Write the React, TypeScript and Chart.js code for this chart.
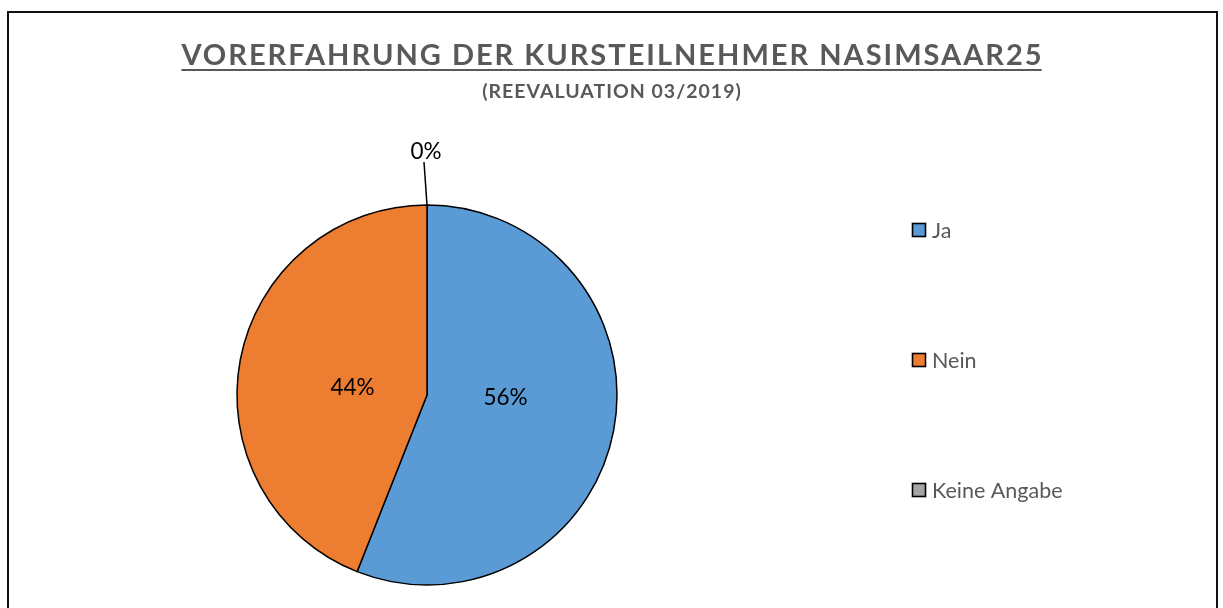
import React, { useEffect, useRef } from "react";
import { Chart, registerables } from "chart.js";

Chart.register(...registerables);

const categories = ["Ja", "Nein", "Keine Angabe"];
const values = [56, 44, 0];
const colors = ["#5B9BD5", "#ED7D31", "#A5A5A5"];
const titleText = "VORERFAHRUNG DER KURSTEILNEHMER NASIMSAAR25";
const subtitleText = "(REEVALUATION 03/2019)";

const FONT = "Lato, Calibri, 'Open Sans', sans-serif";
const GREY = "#595959";
const TITLE_SIZE = 29;
const TITLE_SPACING = 2;
const SUB_SIZE = 19.5;
const SUB_SPACING = 1;
const LABEL_SIZE = 22.5;
const LEGEND_SIZE = 21.5;

const framePlugin = {
  id: "frame",
  beforeDraw(chart: any) {
    const { ctx, width, height } = chart;
    ctx.save();
    ctx.fillStyle = "#fff";
    ctx.fillRect(0, 0, width, height);
    ctx.strokeStyle = "#111";
    ctx.lineWidth = 2;
    ctx.beginPath();
    ctx.moveTo(8, height + 10);
    ctx.lineTo(8, 12);
    ctx.lineTo(1217, 12);
    ctx.lineTo(1217, height + 10);
    ctx.stroke();
    ctx.restore();
  },
};

const titlePlugin = {
  id: "headings",
  afterDraw(chart: any) {
    const { ctx, width } = chart;
    const cx = width / 2;
    ctx.save();
    ctx.fillStyle = GREY;
    ctx.textBaseline = "alphabetic";
    ctx.textAlign = "left";
    // title
    ctx.font = `bold ${TITLE_SIZE}px ${FONT}`;
    (ctx as any).letterSpacing = `${TITLE_SPACING}px`;
    const tw = ctx.measureText(titleText).width - TITLE_SPACING;
    const tx = cx - tw / 2;
    ctx.fillText(titleText, tx, 65);
    ctx.strokeStyle = GREY;
    ctx.lineWidth = 2;
    ctx.beginPath();
    ctx.moveTo(tx, 70);
    ctx.lineTo(tx + tw, 70);
    ctx.stroke();
    // subtitle
    ctx.font = `bold ${SUB_SIZE}px ${FONT}`;
    (ctx as any).letterSpacing = `${SUB_SPACING}px`;
    const sw = ctx.measureText(subtitleText).width - SUB_SPACING;
    ctx.fillText(subtitleText, cx - sw / 2, 98);
    (ctx as any).letterSpacing = "0px";
    ctx.restore();
  },
};

const labelPlugin = {
  id: "sliceLabels",
  afterDatasetsDraw(chart: any) {
    const { ctx } = chart;
    const meta = chart.getDatasetMeta(0);
    const data = chart.data.datasets[0].data as number[];
    const total = data.reduce((a, b) => a + b, 0);
    ctx.save();
    ctx.font = `${LABEL_SIZE}px ${FONT}`;
    ctx.fillStyle = "#000";
    ctx.textAlign = "center";
    ctx.textBaseline = "middle";
    meta.data.forEach((arc: any, i: number) => {
      const p = arc.getProps(["x", "y", "startAngle", "endAngle", "outerRadius"], true);
      const pct = Math.round((data[i] / total) * 100) + "%";
      const mid = (p.startAngle + p.endAngle) / 2;
      if (data[i] === 0) {
        const ex = p.x + p.outerRadius * Math.cos(mid);
        const ey = p.y + p.outerRadius * Math.sin(mid);
        ctx.strokeStyle = "#000";
        ctx.lineWidth = 1.5;
        ctx.beginPath();
        ctx.moveTo(ex, ey);
        ctx.lineTo(ex - 3, ey - 43);
        ctx.stroke();
        ctx.fillText(pct, ex - 1, ey - 53);
      } else {
        const r = p.outerRadius * 0.41;
        const lx = p.x + r * Math.cos(mid) + 2;
        const ly = p.y + r * Math.sin(mid) * 0.35 - 2;
        ctx.fillText(pct, lx, ly);
      }
    });
    ctx.restore();
  },
};

const legendPlugin = {
  id: "sideLegend",
  afterDraw(chart: any) {
    const { ctx } = chart;
    const ds = chart.data.datasets[0];
    ctx.save();
    ctx.font = `${LEGEND_SIZE}px ${FONT}`;
    ctx.textBaseline = "middle";
    ctx.textAlign = "left";
    (chart.data.labels as string[]).forEach((lab, i) => {
      const y = 230 + i * 130;
      ctx.fillStyle = ds.backgroundColor[i];
      ctx.fillRect(912.5, y - 6.5, 13, 13);
      ctx.strokeStyle = "#000";
      ctx.lineWidth = 1.6;
      ctx.strokeRect(912.5, y - 6.5, 13, 13);
      ctx.fillStyle = GREY;
      ctx.fillText(lab, 932, y + 1);
    });
    ctx.restore();
  },
};

export default function App() {
  const ref = useRef<HTMLCanvasElement>(null);
  useEffect(() => {
    if (!ref.current) return;
    const chart = new Chart(ref.current, {
      type: "pie",
      data: {
        labels: categories,
        datasets: [
          {
            data: values,
            backgroundColor: colors,
            borderColor: "#000",
            borderWidth: 1.5,
            radius: 190,
          } as any,
        ],
      },
      options: {
        responsive: false,
        animation: false,
        layout: { padding: { left: 0, right: 369, top: 182, bottom: 0 } },
        plugins: {
          legend: { display: false },
          tooltip: { enabled: false },
          title: { display: false },
        },
      } as any,
      plugins: [framePlugin, titlePlugin, labelPlugin, legendPlugin],
    });
    return () => chart.destroy();
  }, []);
  return (
    <div style={{ position: "fixed", left: 0, top: 0, width: 1223, height: 608, overflow: "hidden", background: "#fff" }}>
      <canvas ref={ref} width={1223} height={608} style={{ display: "block" }} />
    </div>
  );
}
